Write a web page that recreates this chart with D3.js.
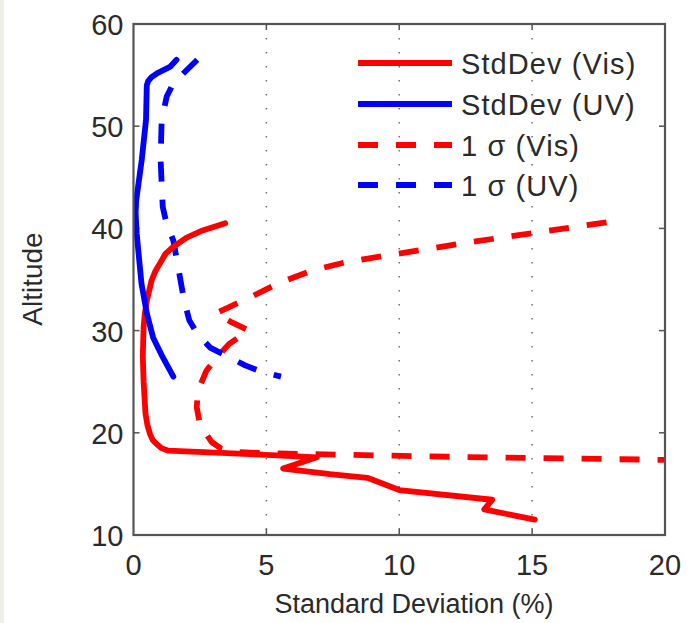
<!DOCTYPE html>
<html>
<head>
<meta charset="utf-8">
<script src="https://cdn.jsdelivr.net/npm/d3@7"></script>
<style>
  html, body { margin: 0; padding: 0; background: #ffffff; }
  svg { display: block; }
  text { font-family: "Liberation Sans", Arial, Helvetica, sans-serif; fill: #2a2a2a; }
</style>
</head>
<body>
<svg id="chart" width="693" height="623"></svg>
<script>
// Standard deviation profiles versus altitude (x = %, y = altitude)
const stdVisValue = [3.45, 2.6, 2.0, 1.49, 1.2, 1.0, 0.82, 0.68, 0.5, 0.42, 0.38, 0.35, 0.38, 0.45, 0.52, 0.62, 0.72, 0.87, 1.05, 1.31, 5.0, 6.9, 5.63, 7.39, 8.8, 10.0, 13.5, 13.2, 15.1];
const stdVisAlt   = [40.5, 39.8, 39.1, 38.2, 37.5, 36.6, 35.8, 34.9, 32.9, 31.5, 30.3, 27.5, 25.0, 21.9, 20.8, 19.9, 19.3, 18.9, 18.5, 18.25, 17.85, 17.6, 16.5, 15.95, 15.6, 14.4, 13.45, 12.5, 11.5];

const stdUvValue = [1.62, 1.37, 0.9, 0.68, 0.55, 0.5, 0.47, 0.31, 0.1, 0.08, 0.12, 0.3, 0.5, 0.74, 1.1, 1.5];
const stdUvAlt   = [56.5, 55.8, 55.2, 54.8, 54.4, 54.0, 50.6, 46.7, 42.7, 41.5, 39.5, 34.6, 31.7, 29.3, 27.4, 25.5];

const sigVisValue = [17.8, 12.8, 9.9, 8.0, 6.75, 5.5, 4.5, 3.6, 3.1, 3.7, 4.35, 3.6, 3.15, 2.75, 2.42, 2.38, 2.5, 2.94, 3.3, 3.7, 5.0, 8.0, 12.0, 20.0];
const sigVisAlt   = [40.6, 38.7, 37.5, 36.7, 35.9, 34.7, 33.4, 32.3, 31.7, 30.8, 30.0, 28.7, 27.4, 26.1, 24.1, 22.5, 20.8, 19.1, 18.45, 18.15, 18.0, 17.85, 17.65, 17.35];

const sigUvValue = [2.4, 1.5, 1.25, 1.06, 1.02, 1.1, 1.25, 1.5, 1.75, 1.9, 2.1, 2.4, 2.9, 3.6, 4.2, 4.8, 5.55];
const sigUvAlt   = [56.5, 54.2, 52.9, 50.6, 46.7, 42.1, 40.4, 38.8, 35.2, 33.0, 31.0, 29.7, 28.3, 27.4, 26.6, 26.0, 25.5];

const xTicks = [0, 5, 10, 15, 20];
const yTicks = [10, 20, 30, 40, 50, 60];
const gridTicks = [5, 10, 15];

const seriesNames = ["StdDev (Vis)", "StdDev (UV)", "1 \u03c3 (Vis)", "1 \u03c3 (UV)"];
const seriesColors = ["#ff0000", "#0000ff", "#ff0000", "#0000ff"];
const seriesDashed = [false, false, true, true];

const svg = d3.select("#chart");

// faint page edge on the left
svg.append("rect").attr("x", 0).attr("y", 0).attr("width", 4).attr("height", 623).attr("fill", "#f0f0e8");

const plotLeft = 133.5, plotRight = 665, plotTop = 24, plotBottom = 535;
const x = d3.scaleLinear().domain([0, 20]).range([plotLeft, plotRight]);
const y = d3.scaleLinear().domain([10, 60]).range([plotBottom, plotTop]);

// dotted vertical grid
svg.append("g").selectAll("line").data(gridTicks).join("line")
  .attr("x1", d => x(d)).attr("x2", d => x(d))
  .attr("y1", plotTop).attr("y2", plotBottom)
  .attr("stroke", "#777").attr("stroke-width", 1.6)
  .attr("stroke-dasharray", "1.6,12.4");

// inward ticks on all four sides
const tickLen = 6;
const tg = svg.append("g").attr("stroke", "#555").attr("stroke-width", 1.5);
xTicks.slice(1, -1).forEach(t => {
  tg.append("line").attr("x1", x(t)).attr("x2", x(t)).attr("y1", plotBottom).attr("y2", plotBottom - tickLen);
  tg.append("line").attr("x1", x(t)).attr("x2", x(t)).attr("y1", plotTop).attr("y2", plotTop + tickLen);
});
yTicks.slice(1, -1).forEach(t => {
  tg.append("line").attr("x1", plotLeft).attr("x2", plotLeft + tickLen).attr("y1", y(t)).attr("y2", y(t));
  tg.append("line").attr("x1", plotRight).attr("x2", plotRight - tickLen).attr("y1", y(t)).attr("y2", y(t));
});

// clip the curves to the axes box
svg.append("clipPath").attr("id", "plotClip")
  .append("rect").attr("x", plotLeft).attr("y", plotTop)
  .attr("width", plotRight - plotLeft).attr("height", plotBottom - plotTop);

const line = d3.line().x(d => x(d[0])).y(d => y(d[1]));
const zipPts = (a, b) => a.map((v, i) => [v, b[i]]);
const series = [
  zipPts(stdVisValue, stdVisAlt),
  zipPts(stdUvValue, stdUvAlt),
  zipPts(sigVisValue, sigVisAlt),
  zipPts(sigUvValue, sigUvAlt)
];

const plot = svg.append("g").attr("clip-path", "url(#plotClip)");
// dashed curves underneath, solid curves on top
[2, 3, 0, 1].forEach(i => {
  plot.append("path")
    .attr("d", line(series[i]))
    .attr("fill", "none")
    .attr("stroke", seriesColors[i])
    .attr("stroke-width", 5.8)
    .attr("stroke-linejoin", "round")
    .attr("stroke-linecap", seriesDashed[i] ? "butt" : "round")
    .attr("stroke-dasharray", seriesDashed[i] ? "20,18" : null);
});

// axes frame
svg.append("rect").attr("x", plotLeft).attr("y", plotTop)
  .attr("width", plotRight - plotLeft).attr("height", plotBottom - plotTop)
  .attr("fill", "none").attr("stroke", "#555").attr("stroke-width", 2.2);

// tick labels
svg.append("g").selectAll("text").data(xTicks).join("text")
  .attr("x", d => x(d)).attr("y", plotBottom + 40)
  .attr("text-anchor", "middle").attr("font-size", 29)
  .text(d => d);
svg.append("g").selectAll("text").data(yTicks).join("text")
  .attr("x", plotLeft - 10).attr("y", d => y(d) + 11)
  .attr("text-anchor", "end").attr("font-size", 29)
  .text(d => d);

// axis titles
svg.append("text").attr("x", 414).attr("y", 613)
  .attr("text-anchor", "middle").attr("font-size", 27)
  .text("Standard Deviation (%)");
svg.append("text").attr("transform", "translate(42,279) rotate(-90)")
  .attr("text-anchor", "middle").attr("font-size", 28)
  .text("Altitude");

// legend
const legendRows = [63, 104, 145, 185];
const lg = svg.append("g");
seriesNames.forEach((name, i) => {
  lg.append("line")
    .attr("x1", 358).attr("x2", 452)
    .attr("y1", legendRows[i]).attr("y2", legendRows[i])
    .attr("stroke", seriesColors[i]).attr("stroke-width", 5.8)
    .attr("stroke-dasharray", seriesDashed[i] ? "20,18" : null);
  lg.append("text")
    .attr("x", 461).attr("y", legendRows[i] + 10.5)
    .attr("font-size", 29)
    .attr("letter-spacing", 1.1)
    .text(name);
});
</script>
</body>
</html>
